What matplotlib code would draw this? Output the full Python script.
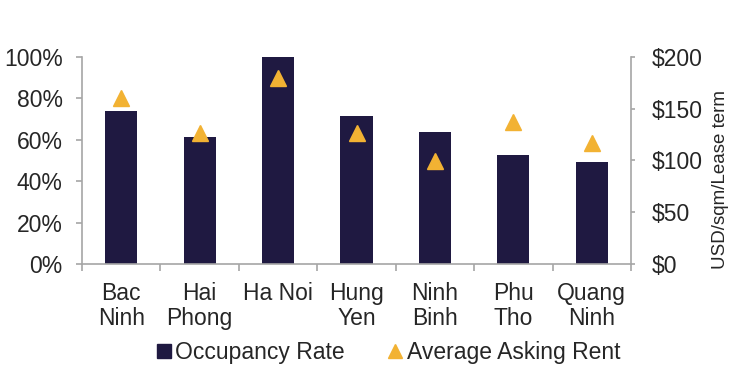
import matplotlib
matplotlib.use("Agg")
import matplotlib.pyplot as plt
import numpy as np
from matplotlib.lines import Line2D

plt.rcParams['font.family'] = ['Liberation Sans', 'DejaVu Sans']

categories = ["Bac\nNinh", "Hai\nPhong", "Ha Noi", "Hung\nYen", "Ninh\nBinh", "Phu\nTho", "Quang\nNinh"]
occupancy = [73.8, 61.3, 100.0, 71.4, 63.7, 52.6, 49.2]
rent = [160, 126, 179, 126, 99, 137, 117]
left_ticks = [0, 20, 40, 60, 80, 100]
right_ticks = [0, 50, 100, 150, 200]

bar_color = "#1F1941"
tri_color = "#F2B233"
axis_color = "#A6A6A6"
text_color = "#262626"

fig = plt.figure(figsize=(7.53, 3.73), dpi=100)
ax = fig.add_axes([0.109, 0.292, 0.729, 0.556])
ax2 = ax.twinx()

x = np.arange(len(categories))
ax.bar(x, occupancy, width=0.41, color=bar_color, zorder=2)
ax2.plot(x, rent, linestyle='none', marker='^', markersize=12, color=tri_color, zorder=3)

ax.set_xlim(-0.5, len(categories) - 0.5)
ax.set_ylim(0, 100)
ax2.set_ylim(0, 200)
ax.set_yticks(left_ticks)
ax.set_yticklabels([f"{v}%" for v in left_ticks], fontsize=16.5, color=text_color)
ax2.set_yticks(right_ticks)
ax2.set_yticklabels([f"${v}" for v in right_ticks], fontsize=16.5, color=text_color)
ax2.set_ylabel("USD/sqm/Lease term", fontsize=13.5, color=text_color)
ax2.yaxis.set_label_coords(1.147, 0.41)

ax.set_xticks(np.arange(len(categories) + 1) - 0.5)
ax.set_xticklabels([])
ax.set_xticks(x, minor=True)
ax.set_xticklabels(categories, minor=True, fontsize=16.5, color=text_color, linespacing=1.13)
ax.tick_params(axis='x', which='minor', length=0, pad=13)
ax.tick_params(axis='x', which='major', length=5, color=axis_color, width=1.2)
ax.tick_params(axis='y', length=4, color=axis_color, width=1.2, pad=10)
ax2.tick_params(axis='y', length=3, color=axis_color, width=1.2, pad=12)

for a in (ax, ax2):
    a.spines['top'].set_visible(False)
    for s in ('left', 'right', 'bottom'):
        a.spines[s].set_color(axis_color)
        a.spines[s].set_linewidth(1.2)
ax.spines['right'].set_visible(False)
ax2.spines['left'].set_visible(False)
ax2.spines['bottom'].set_visible(False)

handles = [
    Line2D([], [], linestyle='none', marker='s', markersize=9.5, color=bar_color, label='Occupancy Rate'),
    Line2D([], [], linestyle='none', marker='^', markersize=10, color=tri_color, label='Average Asking Rent'),
]
fig.legend(handles=handles, loc='center', bbox_to_anchor=(0.513, 0.054), ncol=2, frameon=False,
           fontsize=16.5, handletextpad=0.0, columnspacing=1.7, handlelength=1.0, labelcolor=text_color)

fig.savefig("out.png", dpi=100)
